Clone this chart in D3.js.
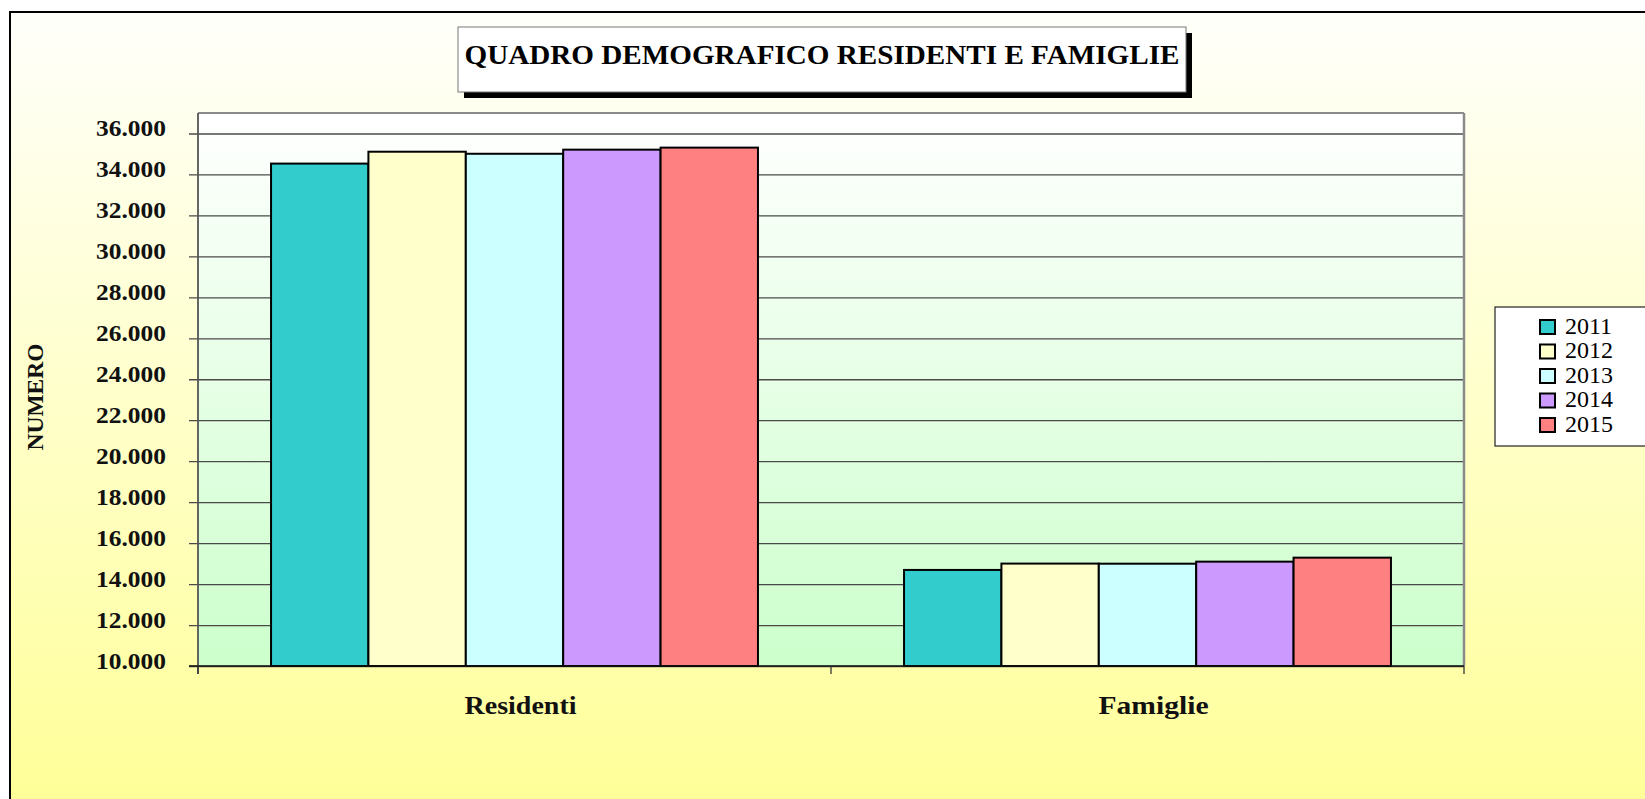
<!DOCTYPE html>
<html>
<head>
<meta charset="utf-8">
<script src="https://cdn.jsdelivr.net/npm/d3@7"></script>
<style>
  html, body { margin: 0; padding: 0; background: #ffffff; }
  svg { display: block; }
  text { font-family: "Liberation Serif", "DejaVu Serif", serif; }
</style>
</head>
<body>
<svg id="chart" width="1645" height="799"></svg>
<script>
// ---- data ----
const categories = ["Residenti", "Famiglie"];
const years = ["2011", "2012", "2013", "2014", "2015"];
const residenti = [34530, 35110, 35010, 35210, 35310];
const famiglie = [14690, 15000, 14995, 15095, 15290];
const yTicks = [10000, 12000, 14000, 16000, 18000, 20000, 22000, 24000, 26000, 28000, 30000, 32000, 34000, 36000];
const colors = ["#33CCCC", "#FFFFCC", "#CCFFFF", "#CC99FF", "#FF8080"];
const titleText = "QUADRO DEMOGRAFICO RESIDENTI E FAMIGLIE";
const yTitle = "NUMERO";

const seriesByCat = { "Residenti": residenti, "Famiglie": famiglie };

const svg = d3.select("#chart");
const defs = svg.append("defs");

// gradients
const gOuter = defs.append("linearGradient").attr("id", "gOuter")
  .attr("gradientUnits", "userSpaceOnUse").attr("x1", 0).attr("y1", 12).attr("x2", 0).attr("y2", 799);
gOuter.append("stop").attr("offset", "0%").attr("stop-color", "#fffffb");
gOuter.append("stop").attr("offset", "100%").attr("stop-color", "#ffff99");

const gPlot = defs.append("linearGradient").attr("id", "gPlot")
  .attr("x1", 0).attr("y1", 0).attr("x2", 0).attr("y2", 1);
gPlot.append("stop").attr("offset", "0%").attr("stop-color", "#ffffff");
gPlot.append("stop").attr("offset", "100%").attr("stop-color", "#ccffcc");

// outer frame (extends past right/bottom edge)
svg.append("rect").attr("x", 10).attr("y", 12).attr("width", 1700).attr("height", 900)
  .attr("fill", "url(#gOuter)").attr("stroke", "#000").attr("stroke-width", 2);

// plot geometry
const plot = { left: 198, right: 1464, top: 113, bottom: 666 };

const x0 = d3.scaleBand().domain(categories).range([plot.left, plot.right]).padding(0);
const x1 = d3.scaleBand().domain(years).range([0, x0.bandwidth()]).paddingInner(0).paddingOuter(0.75);
const y = d3.scaleLinear().domain([10000, 37000]).range([plot.bottom, plot.top]);

const fmt = d3.formatLocale({ decimal: ",", thousands: ".", grouping: [3], currency: ["€", ""] }).format(",d");

// plot background
svg.append("rect").attr("x", plot.left).attr("y", plot.top)
  .attr("width", plot.right - plot.left).attr("height", plot.bottom - plot.top)
  .attr("fill", "url(#gPlot)");

// gridlines + y ticks (ticks extend left of axis)
const gy = svg.append("g").attr("transform", `translate(${plot.right},0)`)
  .call(d3.axisLeft(y).tickValues(yTicks).tickSize(plot.right - plot.left + 9).tickFormat(""));
gy.select(".domain").remove();
gy.selectAll(".tick line").attr("stroke", "#4a4a4a").attr("stroke-width", 1.3);

// y labels
const gyl = svg.append("g").attr("transform", `translate(${plot.left},0)`)
  .call(d3.axisLeft(y).tickValues(yTicks).tickSize(0).tickPadding(32).tickFormat(fmt));
gyl.select(".domain").remove();
gyl.selectAll(".tick text")
  .attr("font-family", "Liberation Serif, serif")
  .attr("font-weight", "bold")
  .attr("font-size", 23)
  .attr("fill", "#111")
  .attr("dy", "0.22em")
  .attr("y", -3)
  .attr("textLength", 70)
  .attr("lengthAdjust", "spacingAndGlyphs");

// plot border top/right
svg.append("line").attr("x1", plot.left).attr("x2", plot.right).attr("y1", plot.top).attr("y2", plot.top)
  .attr("stroke", "#8a8a8a").attr("stroke-width", 2);
svg.append("line").attr("x1", plot.right).attr("x2", plot.right).attr("y1", plot.top).attr("y2", plot.bottom)
  .attr("stroke", "#8a8a8a").attr("stroke-width", 2.5);

// bars
const groups = svg.append("g").selectAll("g").data(categories).join("g")
  .attr("transform", d => `translate(${x0(d)},0)`);
groups.selectAll("rect").data(c => years.map((yr, i) => ({ yr, i, v: seriesByCat[c][i] }))).join("rect")
  .attr("x", d => x1(d.yr))
  .attr("width", x1.bandwidth())
  .attr("y", d => y(d.v))
  .attr("height", d => y(10000) - y(d.v))
  .attr("fill", d => colors[d.i])
  .attr("stroke", "#000")
  .attr("stroke-width", 2);

// y axis line
svg.append("line").attr("x1", plot.left).attr("x2", plot.left).attr("y1", plot.top).attr("y2", plot.bottom + 8)
  .attr("stroke", "#555").attr("stroke-width", 1.8);

// x axis with category boundary ticks
const gx = svg.append("g").attr("transform", `translate(0,${plot.bottom})`);
gx.append("line").attr("x1", plot.left - 9).attr("x2", plot.right).attr("y1", 0).attr("y2", 0)
  .attr("stroke", "#111").attr("stroke-width", 1.6);
const bounds = [plot.left, x0(categories[1]), plot.right];
gx.selectAll("line.bt").data(bounds).join("line").attr("class", "bt")
  .attr("x1", d => d).attr("x2", d => d).attr("y1", 0).attr("y2", 8)
  .attr("stroke", "#333").attr("stroke-width", 1.3);

// category labels
const catLen = { "Residenti": 112, "Famiglie": 110 };
svg.append("g").selectAll("text").data(categories).join("text")
  .attr("x", d => x0(d) + x0.bandwidth() / 2 + 6)
  .attr("y", 714)
  .attr("text-anchor", "middle")
  .attr("font-weight", "bold")
  .attr("font-size", 25)
  .attr("fill", "#111")
  .attr("textLength", d => catLen[d])
  .attr("lengthAdjust", "spacingAndGlyphs")
  .text(d => d);

// y-axis title
svg.append("text")
  .attr("transform", "translate(43,397) rotate(-90)")
  .attr("text-anchor", "middle")
  .attr("font-weight", "bold")
  .attr("font-size", 24)
  .attr("fill", "#111")
  .attr("textLength", 107)
  .attr("lengthAdjust", "spacingAndGlyphs")
  .text(yTitle);

// title box with shadow
svg.append("rect").attr("x", 464).attr("y", 33).attr("width", 728).attr("height", 65).attr("fill", "#000");
svg.append("rect").attr("x", 458).attr("y", 27).attr("width", 728).attr("height", 65)
  .attr("fill", "#ffffff").attr("stroke", "#777").attr("stroke-width", 1);
svg.append("text")
  .attr("x", 822).attr("y", 64)
  .attr("text-anchor", "middle")
  .attr("font-weight", "bold")
  .attr("font-size", 27)
  .attr("fill", "#000")
  .attr("textLength", 715)
  .attr("lengthAdjust", "spacingAndGlyphs")
  .text(titleText);

// legend
const lg = svg.append("g");
lg.append("rect").attr("x", 1495).attr("y", 307).attr("width", 200).attr("height", 139)
  .attr("fill", "#ffffff").attr("stroke", "#222").attr("stroke-width", 1.2);
const rows = lg.selectAll("g.row").data(years).join("g").attr("class", "row")
  .attr("transform", (d, i) => `translate(1540,${320 + i * 24.5})`);
rows.append("rect").attr("x", 0).attr("y", 0).attr("width", 15).attr("height", 14)
  .attr("fill", (d, i) => colors[i]).attr("stroke", "#000").attr("stroke-width", 2);
rows.append("text").attr("x", 25).attr("y", 13.5)
  .attr("font-size", 24).attr("fill", "#000")
  .text(d => d);
</script>
</body>
</html>
